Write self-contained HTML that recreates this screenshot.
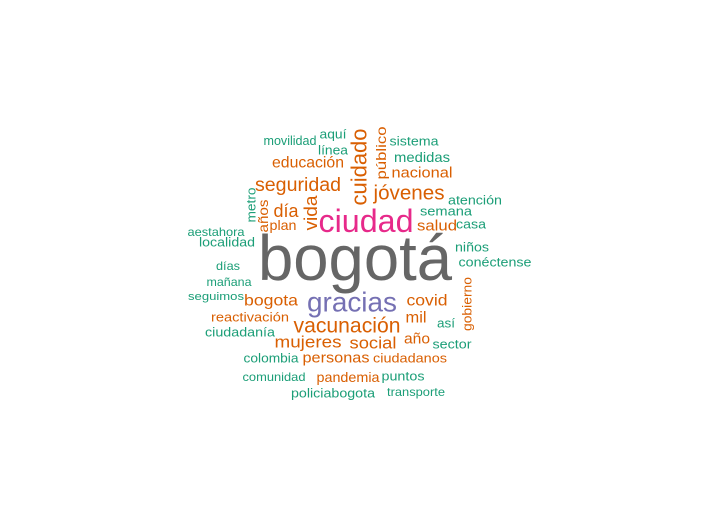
<!DOCTYPE html>
<html><head><meta charset="utf-8">
<style>
html,body{margin:0;padding:0;background:#fff;}
svg{display:block;}
text{font-family:"Liberation Sans",Arial,sans-serif;}
</style></head>
<body>
<svg id="cloud" width="712" height="522" viewBox="0 0 712 522"></svg>
<script>
const words = ["bogotá","ciudad","gracias","vacunación","seguridad","cuidado","jóvenes","educación","movilidad","aquí","línea","público","sistema","medidas","nacional","metro","años","día","vida","plan","atención","semana","salud","casa","aestahora","localidad","niños","conéctense","días","mañana","seguimos","bogota","covid","gobierno","reactivación","mil","así","ciudadanía","mujeres","social","año","sector","colombia","personas","ciudadanos","comunidad","pandemia","puntos","policiabogota","transporte"];
const sizes = [64,32,28,21,19.6,22,20.6,15.8,12.5,13,13,14,13,14,15,13,14,18,18,14,13,13,15,13,12,13,13,13,12,12,11,16,16,13,13,16,13,13,17,17,15,13,13,15,13,12,14,13,13,12];
const colorIdx = [4,3,2,1,1,1,1,1,0,0,0,1,0,0,1,0,1,1,1,1,0,0,1,0,0,0,0,0,0,0,0,1,1,1,1,1,0,0,1,1,1,0,0,1,1,0,1,0,0,0];
const palette = ["#1B9E77","#D95F02","#7570B3","#E7298A","#666666"];
const rotated = ["cuidado","público","metro","años","vida","gobierno"];
const layout = [[355,258,194],[366,221,95],[352,302,90],[347,326,107],[298,185,86],[359,167,77],[409,193,71],[308,163,72],[290,141,53],[333,134,27],[333,150,30],[381,153,53],[414,141,49],[422,157,56],[422,173,61],[251,205,35],[263,216,33],[286,211,25],[311,213,35],[283,225,27],[475,200,54],[446,211,52],[437,226,40],[471,224,30],[216,232,57],[227,242,56],[472,247,34],[495,262,73],[228,266,24],[229,282,45],[216,297,56],[271,301,54],[427,301,41],[467,304,54],[250,317,78],[416,318,21],[446,323,18],[240,332,70],[308,342,67],[373,343,47],[417,339,26],[452,344,39],[271,358,55],[336,358,67],[410,358,74],[274,377,63],[348,377,63],[403,376,43],[333,393,84],[416,392,58]];
const svg = document.getElementById('cloud');
const NS = "http://www.w3.org/2000/svg";
words.forEach((w,i)=>{
  const [x,y,len] = layout[i];
  const t = document.createElementNS(NS,'text');
  
  
  t.setAttribute('text-anchor','middle');
  t.setAttribute('dominant-baseline','central');
  t.setAttribute('font-size', sizes[i]);
  t.setAttribute('fill', palette[colorIdx[i]]);
  t.setAttribute('textLength', len);
  t.setAttribute('lengthAdjust','spacingAndGlyphs');
  if (rotated.includes(w)) {
    t.setAttribute('transform', 'translate(' + x + ',' + y + ') rotate(-90)');
    t.setAttribute('x', 0); t.setAttribute('y', 0);
  } else {
    t.setAttribute('x', x); t.setAttribute('y', y);
  }
  t.textContent = w;
  svg.appendChild(t);
});
</script>
</body></html>
